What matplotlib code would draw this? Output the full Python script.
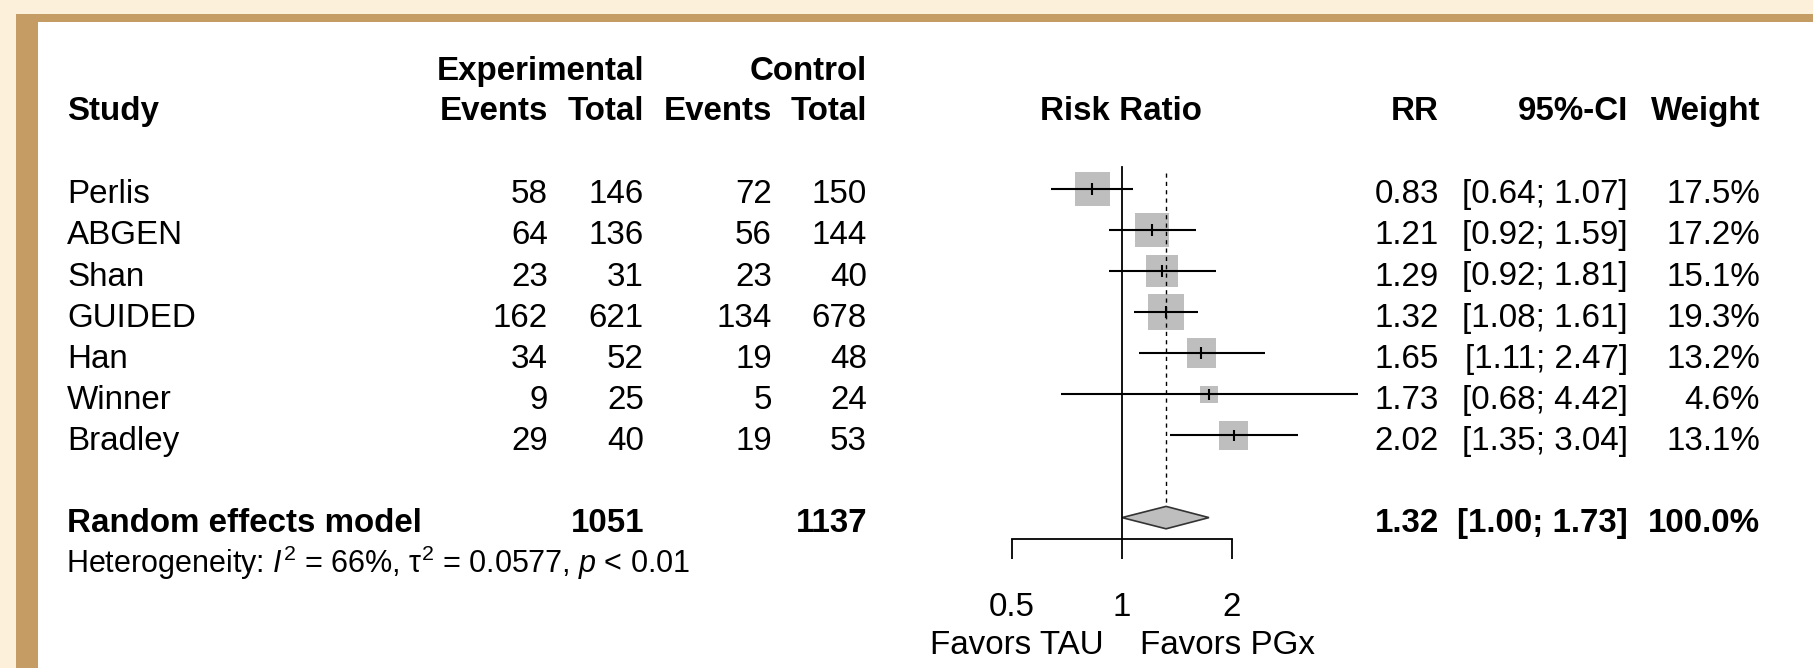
import matplotlib
matplotlib.use("Agg")
import matplotlib.pyplot as plt
from matplotlib.patches import Rectangle, Polygon
import numpy as np

# study data
studies = ["Perlis", "ABGEN", "Shan", "GUIDED", "Han", "Winner", "Bradley"]
exp_events = [58, 64, 23, 162, 34, 9, 29]
exp_total = [146, 136, 31, 621, 52, 25, 40]
ctrl_events = [72, 56, 23, 134, 19, 5, 19]
ctrl_total = [150, 144, 40, 678, 48, 24, 53]
rr = [0.83, 1.21, 1.29, 1.32, 1.65, 1.73, 2.02]
ci_low = [0.64, 0.92, 0.92, 1.08, 1.11, 0.68, 1.35]
ci_high = [1.07, 1.59, 1.81, 1.61, 2.47, 4.42, 3.04]
weight = [17.5, 17.2, 15.1, 19.3, 13.2, 4.6, 13.1]
pooled_rr, pooled_lo, pooled_hi = 1.32, 1.00, 1.73
tick_vals = [0.5, 1, 2]
tick_labels = ["0.5", "1", "2"]
hetero = r"Heterogeneity: $I^2$ = 66%, $\mathrm{\tau}^2$ = 0.0577, $p$ < 0.01"

plt.rcParams["font.family"] = ["Liberation Sans", "DejaVu Sans"]
plt.rcParams["mathtext.fontset"] = "custom"
plt.rcParams["mathtext.rm"] = "Liberation Sans"
plt.rcParams["mathtext.it"] = "Liberation Sans:italic"
plt.rcParams["mathtext.bf"] = "Liberation Sans:bold"

W, H = 1813, 668
FS = 23.9
HFS = 22.0

fig = plt.figure(figsize=(W / 100, H / 100), dpi=100, facecolor="#FDF0DA")
ax = fig.add_axes([0, 0, 1, 1])
ax.set_xlim(0, W)
ax.set_ylim(H, 0)
ax.axis("off")

# frame of the screenshot
ax.add_patch(Rectangle((16, 14), W, H, color="#C49C64", lw=0))
ax.add_patch(Rectangle((38, 22), W, H, color="white", lw=0))

def txt(x, y, s, ha="right", bold=False, size=FS):
    ax.text(x, y, s, ha=ha, va="baseline", fontsize=size,
            fontweight="bold" if bold else "normal", color="black")

# headers
txt(67, 120, "Study", ha="left", bold=True)
txt(644, 80, "Experimental", bold=True)
txt(867, 80, "Control", bold=True)
txt(548, 120, "Events", bold=True)
txt(644, 120, "Total", bold=True)
txt(772, 120, "Events", bold=True)
txt(867, 120, "Total", bold=True)
txt(1121, 120, "Risk Ratio", ha="center", bold=True)
txt(1439, 120, "RR", bold=True)
txt(1628, 120, "95%-CI", bold=True)
txt(1760, 120, "Weight", bold=True)

ROW0, STEP = 203.3, 41.1
for i, name in enumerate(studies):
    yb = ROW0 + STEP * i
    txt(67, yb, name, ha="left")
    txt(548, yb, str(exp_events[i]))
    txt(644, yb, str(exp_total[i]))
    txt(772, yb, str(ctrl_events[i]))
    txt(867, yb, str(ctrl_total[i]))
    txt(1439, yb, f"{rr[i]:.2f}")
    txt(1628, yb, f"[{ci_low[i]:.2f}; {ci_high[i]:.2f}]")
    txt(1760, yb, f"{weight[i]:.1f}%")

yb = ROW0 + STEP * 8
txt(67, yb, "Random effects model", ha="left", bold=True)
txt(644, yb, str(sum(exp_total)), bold=True)
txt(867, yb, str(sum(ctrl_total)), bold=True)
txt(1439, yb, f"{pooled_rr:.2f}", bold=True)
txt(1628, yb, f"[{pooled_lo:.2f}; {pooled_hi:.2f}]", bold=True)
txt(1760, yb, f"{sum(weight):.1f}%", bold=True)
txt(66, yb + 41.3, hetero, ha="left", size=HFS)

txt(1104, 654, "Favors TAU")
txt(1140, 654, "Favors PGx", ha="left")

# forest panel: x 1012..1232 px (0.5..2), y 167..539 px
x0, x1, y0, y1 = 1012, 1232, 167, 539
fx = fig.add_axes([x0 / W, 1 - y1 / H, (x1 - x0) / W, (y1 - y0) / H])
fx.set_xscale("log")
fx.set_xlim(0.5, 2)
c0 = 188.8
fx.set_ylim((y1 - c0) / STEP, (y0 - c0) / STEP)
fx.patch.set_alpha(0)
for s in ["top", "left", "right"]:
    fx.spines[s].set_visible(False)
fx.spines["bottom"].set_linewidth(1.3)
fx.set_yticks([])
fx.set_xticks(tick_vals)
fx.set_xticklabels(tick_labels)
fx.xaxis.set_minor_locator(matplotlib.ticker.NullLocator())
fx.tick_params(axis="x", length=14.4, width=1.3, labelsize=FS, pad=23.5)

px_per_log2 = (x1 - x0) / 2.0
fx.axvline(1, color="black", lw=1.3, clip_on=False)
half_h = 11.2 / STEP
fx.plot([pooled_rr, pooled_rr], [(172.7 - c0) / STEP, 8 - half_h], color="black",
        lw=1.0, ls=(0, (3, 3)), clip_on=False)

rows = np.arange(len(studies))
for i in rows:
    side = 8.2 * np.sqrt(weight[i])
    hw = side / px_per_log2 / 2
    fx.add_patch(Rectangle((rr[i] * 2 ** -hw, i - side / STEP / 2),
                           rr[i] * 2 ** hw - rr[i] * 2 ** -hw, side / STEP,
                           color="#BEBEBE", lw=0, clip_on=False))
fx.hlines(rows, ci_low, ci_high, color="black", lw=1.5, clip_on=False)
fx.vlines(rr, rows - 0.14, rows + 0.14, color="black", lw=1.5, clip_on=False)

fx.add_patch(Polygon([(pooled_lo, 8), (pooled_rr, 8 - half_h), (pooled_hi, 8),
                      (pooled_rr, 8 + half_h)], closed=True, facecolor="#BEBEBE",
                     edgecolor="#333333", lw=1.2, clip_on=False))

fig.savefig("out.png", dpi=100, facecolor=fig.get_facecolor())
